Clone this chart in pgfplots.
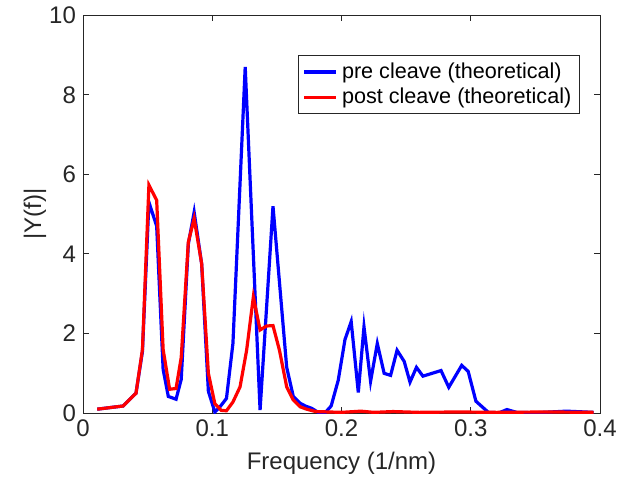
\documentclass[border=0pt]{standalone}
\usepackage{fontspec}
\setmainfont{Liberation Sans}
\usepackage{pgfplots}
\pgfplotsset{compat=1.18}
\definecolor{axgray}{RGB}{38,38,38}
\definecolor{preblue}{RGB}{0,0,255}
\definecolor{postred}{RGB}{255,0,0}

\pgfplotstableread{
f y
0.011 0.10
0.031 0.18
0.041 0.50
0.046 1.55
0.051 5.30
0.057 4.70
0.062 1.10
0.066 0.42
0.072 0.35
0.076 0.85
0.0815 4.25
0.086 5.05
0.0918 3.75
0.097 0.55
0.102 0.03
0.106 0.16
0.111 0.37
0.116 1.75
0.1255 8.70
0.137 0.08
0.147 5.20
0.1576 1.15
0.1627 0.42
0.168 0.25
0.172 0.18
0.177 0.12
0.182 0.02
0.187 0.00
0.192 0.18
0.1975 0.83
0.2027 1.85
0.2075 2.30
0.213 0.52
0.2174 2.17
0.2225 0.80
0.2277 1.75
0.233 1.00
0.238 0.95
0.243 1.58
0.2485 1.30
0.253 0.78
0.258 1.15
0.263 0.93
0.277 1.07
0.283 0.65
0.293 1.20
0.298 1.05
0.304 0.30
0.3136 0.02
0.322 0.01
0.328 0.09
0.3355 0.02
0.350 0.01
0.374 0.05
0.395 0.02
}\pretable

\pgfplotstableread{
f y
0.011 0.10
0.031 0.18
0.041 0.50
0.046 1.60
0.051 5.73
0.057 5.35
0.062 1.60
0.067 0.60
0.072 0.62
0.076 1.40
0.0815 4.30
0.086 4.89
0.0918 3.76
0.097 1.00
0.102 0.24
0.107 0.07
0.111 0.06
0.116 0.28
0.1215 0.66
0.1266 1.58
0.1318 2.92
0.137 2.09
0.142 2.19
0.147 2.20
0.152 1.58
0.1576 0.66
0.1627 0.33
0.168 0.16
0.173 0.10
0.180 0.04
0.190 0.03
0.200 0.02
0.215 0.05
0.225 0.02
0.240 0.04
0.260 0.02
0.290 0.03
0.320 0.02
0.360 0.03
0.395 0.02
}\posttable

\begin{document}
\begin{tikzpicture}
\begin{axis}[
  scale only axis,
  width=258.5pt, height=199pt,
  xmin=0, xmax=0.4, ymin=0, ymax=10,
  xtick={0,0.1,0.2,0.3,0.4},
  ytick={0,2,4,6,8,10},
  xticklabels={0,0.1,0.2,0.3,0.4},
  tick align=inside,
  major tick length=3pt,
  axis line style={axgray, line width=0.5pt},
  every tick/.style={axgray, line width=0.5pt},
  tick label style={font=\fontsize{12}{14}\selectfont, text=axgray},
  /pgf/number format/assume math mode=true,
  label style={font=\fontsize{12}{14}\selectfont, text=axgray},
  xlabel={Frequency (1/nm)},
  ylabel={|Y(f)|},
  xlabel style={at={(axis description cs:0.5,0)}, anchor=center, yshift=-25pt},
  ylabel style={at={(axis description cs:-0.093,0.5)}, anchor=center, rotate=0},
  legend style={at={(0.961,0.8995)}, anchor=north east,
    font=\fontsize{10.8}{13}\selectfont, draw=axgray, line width=0.5pt,
    inner xsep=2pt, inner ysep=1.5pt, row sep=-0.5pt,
    cells={anchor=west}},
  legend image code/.code={\draw[#1] (0pt,0pt) -- (16pt,0pt);},
  clip=true,
]
\addplot[preblue, line width=1.6pt] table[x=f, y=y] {\pretable};
\addlegendentry{pre cleave (theoretical)}
\addplot[postred, line width=1.6pt] table[x=f, y=y] {\posttable};
\addlegendentry{post cleave (theoretical)}
\end{axis}
\path (current axis.south west) ++(-41.5pt,-36pt) coordinate (bbA);
\path (current axis.north east) ++(18pt,7.5pt) coordinate (bbB);
\useasboundingbox (bbA) rectangle (bbB);
\end{tikzpicture}
\end{document}
